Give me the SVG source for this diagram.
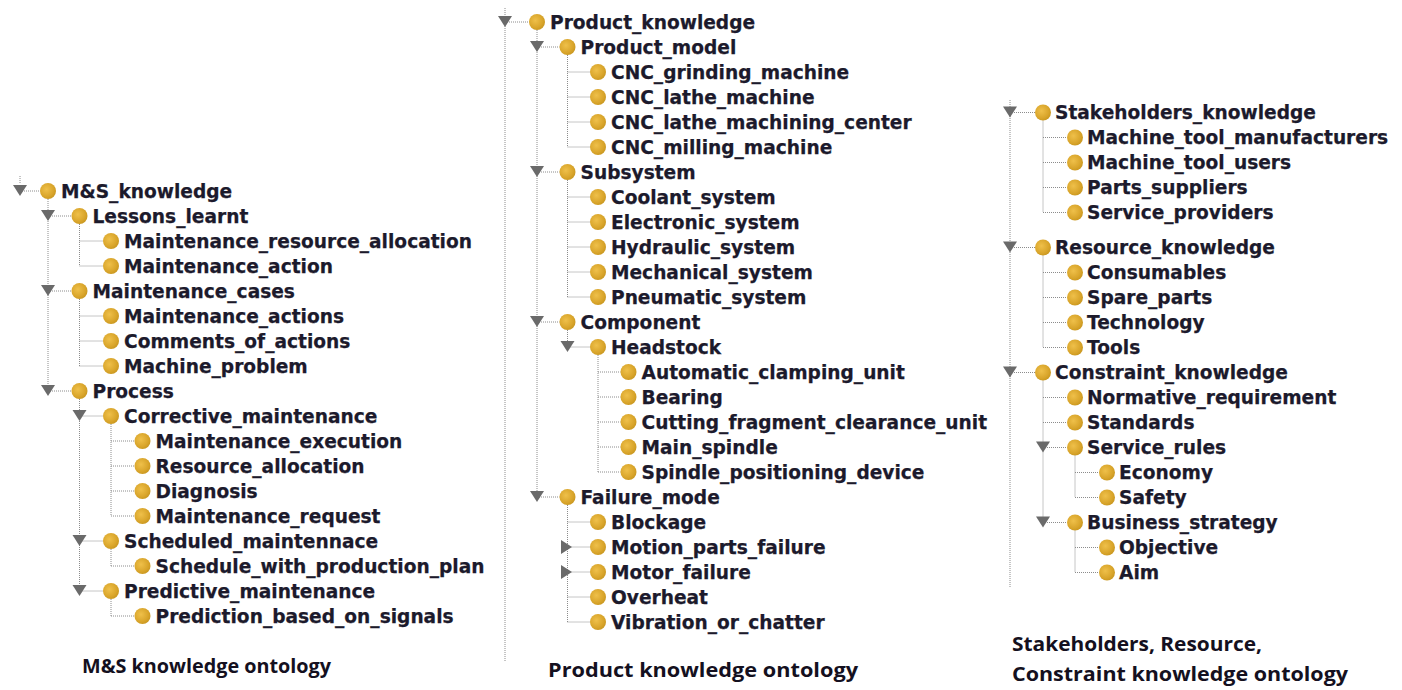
<svg xmlns="http://www.w3.org/2000/svg" width="1402" height="690" viewBox="0 0 1402 690">
<defs>
<radialGradient id="gold" cx="0.4" cy="0.4" r="0.65">
<stop offset="0" stop-color="#efc04a"/>
<stop offset="0.7" stop-color="#d9a52b"/>
<stop offset="1" stop-color="#c8961f"/>
</radialGradient>
<style>
.t{font-family:"DejaVu Sans",Verdana,sans-serif;font-weight:bold;font-size:18.6px;fill:#1c1a2c;stroke:#1c1a2c;stroke-width:0.25px}
.cap{font-family:"Open Sans",Lato,sans-serif;font-weight:bold;font-size:19px;fill:#141020}
.c{fill:url(#gold)}
.tri{fill:#6a6a6a}
.ln{stroke:#8c8c8c;stroke-width:1;stroke-dasharray:1 1;fill:none}
</style>
</defs>
<rect width="1402" height="690" fill="#ffffff"/>

<g id="connectors" class="ln">
<path d="M20 176V184M20 191H40"/>
<path d="M48 199V391M48 216H71.5M48 291H71.5M48 391H71.5"/>
<path d="M79.5 224V266M79.5 241H103M79.5 266H103"/>
<path d="M79.5 299V366M79.5 316H103M79.5 341H103M79.5 366H103"/>
<path d="M79.5 399V591M79.5 416H103M79.5 541H103M79.5 591H103"/>
<path d="M111 424V516M111 441H134.5M111 466H134.5M111 491H134.5M111 516H134.5"/>
<path d="M111 549V566M111 566H134.5"/>
<path d="M111 599V616M111 616H134.5"/>
<path d="M505 8V662M505 22H529"/>
<path d="M537 30V497M537 47H559.5M537 172H559.5M537 322H559.5M537 497H559.5"/>
<path d="M567.5 55V147M567.5 72H590M567.5 97H590M567.5 122H590M567.5 147H590"/>
<path d="M567.5 180V297M567.5 197H590M567.5 222H590M567.5 247H590M567.5 272H590M567.5 297H590"/>
<path d="M567.5 330V347M567.5 347H590"/>
<path d="M598 355V472M598 372H620.5M598 397H620.5M598 422H620.5M598 447H620.5M598 472H620.5"/>
<path d="M567.5 505V622M567.5 522H590M567.5 547H590M567.5 572H590M567.5 597H590M567.5 622H590"/>
<path d="M1010 100V588M1010 112.5H1035M1010 247.5H1035M1010 372.5H1035"/>
<path d="M1043 120.5V212.5M1043 137.5H1067M1043 162.5H1067M1043 187.5H1067M1043 212.5H1067"/>
<path d="M1043 255.5V347.5M1043 272.5H1067M1043 297.5H1067M1043 322.5H1067M1043 347.5H1067"/>
<path d="M1043 380.5V522.5M1043 397.5H1067M1043 422.5H1067M1043 447.5H1067M1043 522.5H1067"/>
<path d="M1075 455.5V497.5M1075 472.5H1099M1075 497.5H1099"/>
<path d="M1075 530.5V572.5M1075 547.5H1099M1075 572.5H1099"/>
</g>

<g id="n-MS_knowledge"><path class="tri" d="M13 185H27L20 196Z"/><circle class="c" cx="48" cy="191" r="8"/><text class="t" x="61" y="197.5">M&amp;S_knowledge</text></g>
<g id="n-Lessons_learnt"><path class="tri" d="M41 210H55L48 221Z"/><circle class="c" cx="79.5" cy="216" r="8"/><text class="t" x="92.5" y="222.5">Lessons_learnt</text></g>
<g id="n-Maintenance_resource_allocation"><circle class="c" cx="111" cy="241" r="8"/><text class="t" x="124" y="247.5">Maintenance_resource_allocation</text></g>
<g id="n-Maintenance_action"><circle class="c" cx="111" cy="266" r="8"/><text class="t" x="124" y="272.5">Maintenance_action</text></g>
<g id="n-Maintenance_cases"><path class="tri" d="M41 285H55L48 296Z"/><circle class="c" cx="79.5" cy="291" r="8"/><text class="t" x="92.5" y="297.5">Maintenance_cases</text></g>
<g id="n-Maintenance_actions"><circle class="c" cx="111" cy="316" r="8"/><text class="t" x="124" y="322.5">Maintenance_actions</text></g>
<g id="n-Comments_of_actions"><circle class="c" cx="111" cy="341" r="8"/><text class="t" x="124" y="347.5">Comments_of_actions</text></g>
<g id="n-Machine_problem"><circle class="c" cx="111" cy="366" r="8"/><text class="t" x="124" y="372.5">Machine_problem</text></g>
<g id="n-Process"><path class="tri" d="M41 385H55L48 396Z"/><circle class="c" cx="79.5" cy="391" r="8"/><text class="t" x="92.5" y="397.5">Process</text></g>
<g id="n-Corrective_maintenance"><path class="tri" d="M72.5 410H86.5L79.5 421Z"/><circle class="c" cx="111" cy="416" r="8"/><text class="t" x="124" y="422.5">Corrective_maintenance</text></g>
<g id="n-Maintenance_execution"><circle class="c" cx="142.5" cy="441" r="8"/><text class="t" x="155.5" y="447.5">Maintenance_execution</text></g>
<g id="n-Resource_allocation"><circle class="c" cx="142.5" cy="466" r="8"/><text class="t" x="155.5" y="472.5">Resource_allocation</text></g>
<g id="n-Diagnosis"><circle class="c" cx="142.5" cy="491" r="8"/><text class="t" x="155.5" y="497.5">Diagnosis</text></g>
<g id="n-Maintenance_request"><circle class="c" cx="142.5" cy="516" r="8"/><text class="t" x="155.5" y="522.5">Maintenance_request</text></g>
<g id="n-Scheduled_maintennace"><path class="tri" d="M72.5 535H86.5L79.5 546Z"/><circle class="c" cx="111" cy="541" r="8"/><text class="t" x="124" y="547.5">Scheduled_maintennace</text></g>
<g id="n-Schedule_with_production_plan"><circle class="c" cx="142.5" cy="566" r="8"/><text class="t" x="155.5" y="572.5">Schedule_with_production_plan</text></g>
<g id="n-Predictive_maintenance"><path class="tri" d="M72.5 585H86.5L79.5 596Z"/><circle class="c" cx="111" cy="591" r="8"/><text class="t" x="124" y="597.5">Predictive_maintenance</text></g>
<g id="n-Prediction_based_on_signals"><circle class="c" cx="142.5" cy="616" r="8"/><text class="t" x="155.5" y="622.5">Prediction_based_on_signals</text></g>

<g id="n-Product_knowledge"><path class="tri" d="M498 16H512L505 27Z"/><circle class="c" cx="537" cy="22" r="8"/><text class="t" x="550" y="28.5">Product_knowledge</text></g>
<g id="n-Product_model"><path class="tri" d="M530 41H544L537 52Z"/><circle class="c" cx="567.5" cy="47" r="8"/><text class="t" x="580.5" y="53.5">Product_model</text></g>
<g id="n-CNC_grinding_machine"><circle class="c" cx="598" cy="72" r="8"/><text class="t" x="611" y="78.5">CNC_grinding_machine</text></g>
<g id="n-CNC_lathe_machine"><circle class="c" cx="598" cy="97" r="8"/><text class="t" x="611" y="103.5">CNC_lathe_machine</text></g>
<g id="n-CNC_lathe_machining_center"><circle class="c" cx="598" cy="122" r="8"/><text class="t" x="611" y="128.5">CNC_lathe_machining_center</text></g>
<g id="n-CNC_milling_machine"><circle class="c" cx="598" cy="147" r="8"/><text class="t" x="611" y="153.5">CNC_milling_machine</text></g>
<g id="n-Subsystem"><path class="tri" d="M530 166H544L537 177Z"/><circle class="c" cx="567.5" cy="172" r="8"/><text class="t" x="580.5" y="178.5">Subsystem</text></g>
<g id="n-Coolant_system"><circle class="c" cx="598" cy="197" r="8"/><text class="t" x="611" y="203.5">Coolant_system</text></g>
<g id="n-Electronic_system"><circle class="c" cx="598" cy="222" r="8"/><text class="t" x="611" y="228.5">Electronic_system</text></g>
<g id="n-Hydraulic_system"><circle class="c" cx="598" cy="247" r="8"/><text class="t" x="611" y="253.5">Hydraulic_system</text></g>
<g id="n-Mechanical_system"><circle class="c" cx="598" cy="272" r="8"/><text class="t" x="611" y="278.5">Mechanical_system</text></g>
<g id="n-Pneumatic_system"><circle class="c" cx="598" cy="297" r="8"/><text class="t" x="611" y="303.5">Pneumatic_system</text></g>
<g id="n-Component"><path class="tri" d="M530 316H544L537 327Z"/><circle class="c" cx="567.5" cy="322" r="8"/><text class="t" x="580.5" y="328.5">Component</text></g>
<g id="n-Headstock"><path class="tri" d="M560.5 341H574.5L567.5 352Z"/><circle class="c" cx="598" cy="347" r="8"/><text class="t" x="611" y="353.5">Headstock</text></g>
<g id="n-Automatic_clamping_unit"><circle class="c" cx="628.5" cy="372" r="8"/><text class="t" x="641.5" y="378.5">Automatic_clamping_unit</text></g>
<g id="n-Bearing"><circle class="c" cx="628.5" cy="397" r="8"/><text class="t" x="641.5" y="403.5">Bearing</text></g>
<g id="n-Cutting_fragment_clearance_unit"><circle class="c" cx="628.5" cy="422" r="8"/><text class="t" x="641.5" y="428.5">Cutting_fragment_clearance_unit</text></g>
<g id="n-Main_spindle"><circle class="c" cx="628.5" cy="447" r="8"/><text class="t" x="641.5" y="453.5">Main_spindle</text></g>
<g id="n-Spindle_positioning_device"><circle class="c" cx="628.5" cy="472" r="8"/><text class="t" x="641.5" y="478.5">Spindle_positioning_device</text></g>
<g id="n-Failure_mode"><path class="tri" d="M530 491H544L537 502Z"/><circle class="c" cx="567.5" cy="497" r="8"/><text class="t" x="580.5" y="503.5">Failure_mode</text></g>
<g id="n-Blockage"><circle class="c" cx="598" cy="522" r="8"/><text class="t" x="611" y="528.5">Blockage</text></g>
<g id="n-Motion_parts_failure"><path class="tri" d="M561 540V554L572 547Z"/><circle class="c" cx="598" cy="547" r="8"/><text class="t" x="611" y="553.5">Motion_parts_failure</text></g>
<g id="n-Motor_failure"><path class="tri" d="M561 565V579L572 572Z"/><circle class="c" cx="598" cy="572" r="8"/><text class="t" x="611" y="578.5">Motor_failure</text></g>
<g id="n-Overheat"><circle class="c" cx="598" cy="597" r="8"/><text class="t" x="611" y="603.5">Overheat</text></g>
<g id="n-Vibration_or_chatter"><circle class="c" cx="598" cy="622" r="8"/><text class="t" x="611" y="628.5">Vibration_or_chatter</text></g>

<g id="n-Stakeholders_knowledge"><path class="tri" d="M1003 106.5H1017L1010 117.5Z"/><circle class="c" cx="1043" cy="112.5" r="8"/><text class="t" x="1055" y="119">Stakeholders_knowledge</text></g>
<g id="n-Machine_tool_manufacturers"><circle class="c" cx="1075" cy="137.5" r="8"/><text class="t" x="1087" y="144">Machine_tool_manufacturers</text></g>
<g id="n-Machine_tool_users"><circle class="c" cx="1075" cy="162.5" r="8"/><text class="t" x="1087" y="169">Machine_tool_users</text></g>
<g id="n-Parts_suppliers"><circle class="c" cx="1075" cy="187.5" r="8"/><text class="t" x="1087" y="194">Parts_suppliers</text></g>
<g id="n-Service_providers"><circle class="c" cx="1075" cy="212.5" r="8"/><text class="t" x="1087" y="219">Service_providers</text></g>
<g id="n-Resource_knowledge"><path class="tri" d="M1003 241.5H1017L1010 252.5Z"/><circle class="c" cx="1043" cy="247.5" r="8"/><text class="t" x="1055" y="254">Resource_knowledge</text></g>
<g id="n-Consumables"><circle class="c" cx="1075" cy="272.5" r="8"/><text class="t" x="1087" y="279">Consumables</text></g>
<g id="n-Spare_parts"><circle class="c" cx="1075" cy="297.5" r="8"/><text class="t" x="1087" y="304">Spare_parts</text></g>
<g id="n-Technology"><circle class="c" cx="1075" cy="322.5" r="8"/><text class="t" x="1087" y="329">Technology</text></g>
<g id="n-Tools"><circle class="c" cx="1075" cy="347.5" r="8"/><text class="t" x="1087" y="354">Tools</text></g>
<g id="n-Constraint_knowledge"><path class="tri" d="M1003 366.5H1017L1010 377.5Z"/><circle class="c" cx="1043" cy="372.5" r="8"/><text class="t" x="1055" y="379">Constraint_knowledge</text></g>
<g id="n-Normative_requirement"><circle class="c" cx="1075" cy="397.5" r="8"/><text class="t" x="1087" y="404">Normative_requirement</text></g>
<g id="n-Standards"><circle class="c" cx="1075" cy="422.5" r="8"/><text class="t" x="1087" y="429">Standards</text></g>
<g id="n-Service_rules"><path class="tri" d="M1036 441.5H1050L1043 452.5Z"/><circle class="c" cx="1075" cy="447.5" r="8"/><text class="t" x="1087" y="454">Service_rules</text></g>
<g id="n-Economy"><circle class="c" cx="1107" cy="472.5" r="8"/><text class="t" x="1119" y="479">Economy</text></g>
<g id="n-Safety"><circle class="c" cx="1107" cy="497.5" r="8"/><text class="t" x="1119" y="504">Safety</text></g>
<g id="n-Business_strategy"><path class="tri" d="M1036 516.5H1050L1043 527.5Z"/><circle class="c" cx="1075" cy="522.5" r="8"/><text class="t" x="1087" y="529">Business_strategy</text></g>
<g id="n-Objective"><circle class="c" cx="1107" cy="547.5" r="8"/><text class="t" x="1119" y="554">Objective</text></g>
<g id="n-Aim"><circle class="c" cx="1107" cy="572.5" r="8"/><text class="t" x="1119" y="579">Aim</text></g>

<g id="captions">
<text class="cap" x="82" y="673" textLength="249" lengthAdjust="spacingAndGlyphs">M&amp;S knowledge ontology</text>
<text class="cap" x="548" y="677" textLength="310" lengthAdjust="spacingAndGlyphs">Product knowledge ontology</text>
<text class="cap" x="1012" y="651" textLength="250" lengthAdjust="spacingAndGlyphs">Stakeholders, Resource,</text>
<text class="cap" x="1012" y="681" textLength="336" lengthAdjust="spacingAndGlyphs">Constraint knowledge ontology</text>
</g>
</svg>
